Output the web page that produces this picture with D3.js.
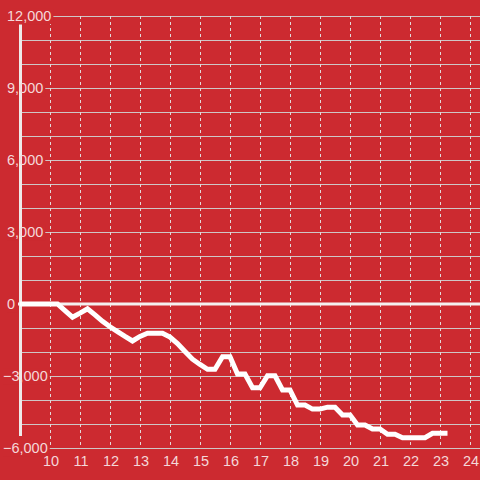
<!DOCTYPE html>
<html>
<head>
<meta charset="utf-8">
<script src="https://d3js.org/d3.v7.min.js"></script>
<style>
body { margin: 0; background: #cc2a30; }
svg { display: block; }
text { font-family: "Liberation Sans", Arial, sans-serif; font-size: 14px; fill: #f4d8d9; }
</style>
</head>
<body>
<script>

// hours and running total
var hours = [9, 9.25, 9.5, 9.75, 10, 10.25, 10.5, 10.75, 11, 11.25, 11.5, 11.75,
  12, 12.25, 12.5, 12.75, 13, 13.25, 13.5, 13.75, 14, 14.25, 14.5, 14.75,
  15, 15.25, 15.5, 15.75, 16, 16.25, 16.5, 16.75, 17, 17.25, 17.5, 17.75,
  18, 18.25, 18.5, 18.75, 19, 19.25, 19.5, 19.75, 20, 20.25, 20.5, 20.75,
  21, 21.25, 21.5, 21.75, 22, 22.25, 22.5, 22.75, 23, 23.25];
var totals = [0, 0, 0, 0, 0, 0, -280, -550, -380, -200, -450, -720,
  -950, -1150, -1350, -1540, -1350, -1220, -1220, -1220, -1380, -1650, -1980, -2300,
  -2520, -2720, -2720, -2200, -2200, -2920, -2920, -3490, -3490, -2990, -2990, -3580,
  -3580, -4210, -4210, -4380, -4380, -4300, -4300, -4620, -4620, -5040, -5040, -5210,
  -5210, -5430, -5430, -5570, -5570, -5570, -5570, -5390, -5390, -5390];

var xTicks = [10, 11, 12, 13, 14, 15, 16, 17, 18, 19, 20, 21, 22, 23, 24];
var yGrid = d3.range(-6000, 12001, 1000);
var yLabels = [-6000, -3000, 0, 3000, 6000, 9000, 12000];

var width = 480, height = 480;

var svg = d3.select("body").append("svg")
    .attr("width", width)
    .attr("height", height);

var xScale = d3.scaleLinear()
    .domain([9, 24.333])
    .range([20, 480]);

var yScale = d3.scaleLinear()
    .domain([-6000, 12000])
    .range([448, 16]);

// horizontal grid
svg.append("g").selectAll("line")
    .data(yGrid)
  .enter().append("line")
    .attr("x1", xScale(9))
    .attr("x2", width)
    .attr("y1", function(d) { return yScale(d) + 0.5; })
    .attr("y2", function(d) { return yScale(d) + 0.5; })
    .style("stroke", "#cfc6c6")
    .style("stroke-width", 1.2);

// vertical dashed grid
svg.append("g").selectAll("line")
    .data(xTicks)
  .enter().append("line")
    .attr("x1", function(d) { return Math.round(xScale(d)) + 0.5; })
    .attr("x2", function(d) { return Math.round(xScale(d)) + 0.5; })
    .attr("y1", yScale(12000))
    .attr("y2", yScale(-6000))
    .style("stroke", "#e2dada")
    .style("stroke-dasharray", "3,3");

// patches of background behind the y labels go here
var boxes = svg.append("g");

// y axis line
svg.append("line")
    .attr("x1", xScale(9) + 0.5)
    .attr("x2", xScale(9) + 0.5)
    .attr("y1", yScale(11650))
    .attr("y2", yScale(-5500))
    .style("stroke", "#eeeaea")
    .style("stroke-width", 3);

// y labels
svg.append("g").selectAll("text")
    .data(yLabels)
  .enter().append("text")
    .attr("x", function(d) { return d < 0 ? 3 : 7; })
    .attr("y", function(d) { return yScale(d); })
    .attr("dy", "0.35em")
    .style("font-size", "14.5px")
    .text(function(d) { return d3.format(",")(d); })
    .each(function() {
      var b = this.getBBox();
      boxes.append("rect")
        .attr("x", b.x)
        .attr("y", b.y)
        .attr("width", b.width + 2)
        .attr("height", b.height)
        .style("fill", "#cc2a30");
    });

// zero line
svg.append("line")
    .attr("x1", 18)
    .attr("x2", width)
    .attr("y1", yScale(0))
    .attr("y2", yScale(0))
    .style("stroke", "#f4f0f0")
    .style("stroke-width", 3);

// x labels
svg.append("g").selectAll("text")
    .data(xTicks)
  .enter().append("text")
    .attr("x", function(d) { return xScale(d) + 1; })
    .attr("y", 466)
    .attr("text-anchor", "middle")
    .style("font-size", "14.5px")
    .text(function(d) { return d; });

// the series
var line = d3.line()
    .x(function(d, i) { return xScale(hours[i]); })
    .y(function(d) { return yScale(d); });

svg.append("path")
    .datum(totals)
    .attr("d", line)
    .style("fill", "none")
    .style("stroke", "#ffffff")
    .style("stroke-width", 5)
    .style("stroke-linejoin", "miter");

</script>
</body>
</html>
